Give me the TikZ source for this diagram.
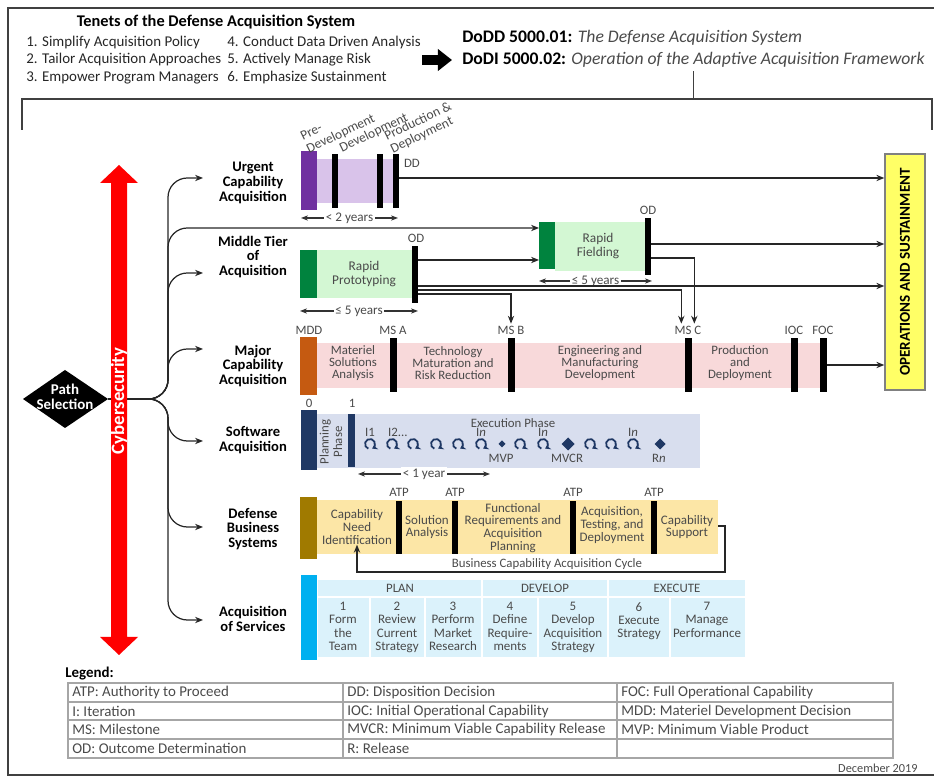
\documentclass[tikz,border=0pt]{standalone}
\usepackage{fontspec}
\setmainfont{Carlito}
\usetikzlibrary{arrows.meta}

\definecolor{ucadark}{HTML}{7030A0}
\definecolor{ucalight}{HTML}{D9C3EA}
\definecolor{mtadark}{HTML}{00833E}
\definecolor{mtalight}{HTML}{D3F7D3}
\definecolor{mcadark}{HTML}{C55A11}
\definecolor{mcalight}{HTML}{F8D9DA}
\definecolor{swdark}{HTML}{1F3864}
\definecolor{swlight}{HTML}{D8DEEE}
\definecolor{dbsdark}{HTML}{A07A00}
\definecolor{dbslight}{HTML}{FCE6A6}
\definecolor{aosdark}{HTML}{00B0F0}
\definecolor{aoslight}{HTML}{DBF2FB}
\definecolor{osfill}{HTML}{FFFF66}
\definecolor{txtgray}{HTML}{4A4A4A}

\begin{document}
\begin{tikzpicture}[x=0.02cm,y=-0.02cm,
  conn/.style={draw=black!85,line width=0.7pt,-{Stealth[length=4.5pt,width=3.6pt]}},
  wire/.style={draw=black!75,line width=0.7pt},
  dur/.style={draw=black!80,line width=0.6pt,{Stealth[length=4pt,width=3pt]}-{Stealth[length=4pt,width=3pt]}},
  durlbl/.style={fill=white,inner sep=1pt,text=txtgray,font=\fontsize{7.5}{8}\selectfont},
  pathlbl/.style={font=\bfseries\fontsize{8.3}{8.4}\selectfont,align=center},
  phase/.style={font=\fontsize{7.3}{6.8}\selectfont,text=txtgray,align=center,inner sep=0pt},
  gate/.style={font=\fontsize{7.3}{8}\selectfont,text=txtgray,inner sep=1pt},
  stage/.style={font=\fontsize{7.7}{8}\selectfont,text=txtgray,inner sep=0pt,rotate=26,anchor=south west,align=left},
  legtxt/.style={font=\fontsize{8.5}{9}\selectfont,text=txtgray,anchor=west,inner sep=0pt}]
\useasboundingbox (0,0) rectangle (934,776);
% frames
\draw[black!75,line width=0.9pt] (934,8) -- (8,8) -- (8,775) -- (934,775);
\draw[wire] (22,130) -- (22,99) -- (932,99) -- (932,130);
\coordinate (brk) at (0,99);

% tenets and policy
\node[font=\bfseries\fontsize{9.3}{10}\selectfont] (tenets) at (216,22) {Tenets of the Defense Acquisition System};
\foreach \t [count=\i] in {Simplify Acquisition Policy,Tailor Acquisition Approaches,Empower Program Managers}
  \node[anchor=west,inner sep=0pt,text=black!85,font=\fontsize{8.5}{9}\selectfont] (ten\i) at (26,25+17.5*\i) {\i. \t};
\foreach \t [count=\i from 4] in {Conduct Data Driven Analysis,Actively Manage Risk,Emphasize Sustainment}
  \node[anchor=west,inner sep=0pt,text=black!85,font=\fontsize{8.5}{9}\selectfont] (ten\i) at (227,25+17.5*\i-52.5) {\i. \t};
\coordinate (arrA) at (422,60);
\coordinate (arrB) at (452,60);
\draw[line width=5.5pt,-{Triangle[length=8pt,width=12pt]}] (arrA) -- (arrB);
\node[anchor=west,inner sep=0pt,font=\fontsize{10.05}{11}\selectfont] (dodd) at (462,38) {\textbf{DoDD 5000.01:} \textcolor{txtgray}{\itshape The Defense Acquisition System}};
\node[anchor=west,inner sep=0pt,font=\fontsize{10.05}{11}\selectfont] (dodi) at (462,60) {\textbf{DoDI 5000.02:} \textcolor{txtgray}{\itshape Operation of the Adaptive Acquisition Framework}};
\draw[wire] ([yshift=-2pt]dodi.south) -- (dodi.south |- brk);

% path selection
\fill (23,399) -- (65,370) -- (108,399) -- (65,428) -- cycle;
\coordinate (selR) at (108,399);
\node[font=\bfseries\fontsize{8.5}{8.8}\selectfont,text=white,align=center] (sel) at (65,397) {Path\\Selection};
\node[pathlbl] (uca) at (253,183) {Urgent\\Capability\\Acquisition};
\node[pathlbl] (mta) at (253,257) {Middle Tier\\of\\Acquisition};
\node[pathlbl] (mca) at (253,366) {Major\\Capability\\Acquisition};
\node[pathlbl] (swa) at (253,440) {Software\\Acquisition};
\node[pathlbl] (dbs) at (253,529) {Defense\\Business\\Systems};
\node[pathlbl] (aos) at (253,619) {Acquisition\\of Services};
\foreach \n/\y in {uca/178,mta/273,mca/349,swa/441,dbs/527,aos/620}
  \draw[conn,rounded corners=11pt] (selR) -- (168,399) -- (168,\y) -- (203,\y) coordinate (\n-in);
\coordinate (rfIn) at (539,228);
\draw[conn,rounded corners=11pt] (selR) -- (168,399) -- (168,228) -- (rfIn);

% cybersecurity
\fill[red] (119,165) -- (138,183) -- (127,183) -- (127,637) -- (138,637) -- (119,655) -- (100,637) -- (111,637) -- (111,183) -- (100,183) -- cycle;
\node[rotate=90,text=white,font=\bfseries\fontsize{10.7}{12}\selectfont] (cyber) at (119,401) {Cybersecurity};

% operations and sustainment
\node[draw=black!50,line width=0.8pt,fill=osfill,minimum width=0.8cm,minimum height=4.72cm,inner sep=0pt] (os) at (905,272) {\rotatebox{90}{\bfseries\fontsize{8.6}{9}\selectfont OPERATIONS AND SUSTAINMENT}};

% urgent capability
\fill[ucalight] (317,159) rectangle (396,203);
\fill[ucadark] (301,151) rectangle (317,210);
\foreach \x in {332,377,393} \fill (\x,154) rectangle ++(6,54);
\node[gate,anchor=west] (dd) at (402,163) {DD};
\node[stage] (pre) at (310,156) {Pre-\\Development};
\node[stage] (dev) at (343,155) {Development};
\node[stage] (prod) at (394,156) {Production \&\\Deployment};
\coordinate (ddOut) at (399,178);
\draw[conn] (ddOut) -- (os.west |- ddOut);
\draw[dur] (301,218) -- (398,218) node[durlbl,midway] (ucaDur) {< 2 years};

% middle tier
\fill[mtalight] (317,250) rectangle (413,298);
\fill[mtadark] (300,250) rectangle (317,298);
\fill (412,246) rectangle (418,303);
\node[gate] (rpOD) at (416,238) {OD};
\node[phase,font=\fontsize{7.6}{8.2}\selectfont] (rp) at (364,274) {Rapid\\Prototyping};
\draw[dur] (300,311) -- (418,311) node[durlbl,midway] (rpDur) {≤ 5 years};
\fill[mtalight] (555,222) rectangle (646,271);
\fill[mtadark] (539,222) rectangle (555,269);
\fill (645,218) rectangle (651,275);
\node[gate] (rfOD) at (648,210) {OD};
\node[phase,font=\fontsize{7.6}{8.2}\selectfont] (rf) at (598,246) {Rapid\\Fielding};
\draw[dur] (539,281) -- (652,281) node[durlbl,midway] (rfDur) {≤ 5 years};
\coordinate (rpA) at (418,260);
\coordinate (rpB) at (418,286);
\coordinate (rpC) at (418,290);
\coordinate (rpD) at (418,294);
\coordinate (rfA) at (651,244);
\coordinate (rfB) at (651,258);

% major capability
\fill[mcalight] (317,343) rectangle (827,388);
\fill[mcadark] (300,337) rectangle (317,395);
\foreach \x in {390,508,685,791,820} \fill (\x,338) rectangle ++(6.5,54);
\foreach \x/\t/\n in {309/MDD/mdd,393/MS A/msa,511/MS B/msb,688/MS C/msc,794/IOC/ioc,823/FOC/foc}
  \node[gate] (\n) at (\x,330) {\t};
\node[phase] (msaph) at (353,363) {Materiel\\Solutions\\Analysis};
\node[phase] (tmrr) at (453,363) {Technology\\Maturation and\\Risk Reduction};
\node[phase] (emd) at (600,363) {Engineering and\\Manufacturing\\Development};
\node[phase] (pd) at (740,363) {Production\\and\\Deployment};
\coordinate (focOut) at (827,365);
\draw[conn] (focOut) -- (os.west |- focOut);
\draw[conn] (rpA) -- (rpA -| rfIn);
\draw[conn] (rfA) -- (os.west |- rfA);
\draw[conn] (rpB) -- (os.west |- rpB);
\draw[conn] (rfB) -| ([xshift=3.6pt]msc.north);
\draw[conn] (rpC) -| ([xshift=-3.8pt]msc.north);
\draw[conn] (rpD) -| (msb.north);

% software
\fill[swlight] (317,414) rectangle (700,468);
\fill[swdark] (301,410) rectangle (317,470);
\fill[swdark] (348,414) rectangle (355,467);
\node[gate] (sw0) at (309,403) {0};
\node[gate] (sw1) at (352,403) {1};
\node[phase,rotate=90,font=\fontsize{7.3}{7.6}\selectfont] (swplan) at (331,442) {Planning\\Phase};
\node[gate] (exec) at (513,423) {Execution Phase};
\foreach \x in {370,392,413,436,458,481,520,543,590,611,633}
  \draw[draw=swdark,line width=1pt,-{Stealth[length=3pt,width=3.8pt]}] (\x,444) ++(250:0.1cm) arc[start angle=250,end angle=-65,radius=0.1cm];
\node[gate] (i1) at (370,432) {I1};
\node[gate,anchor=west] (i2) at (386,432) {I2...};
\foreach \x/\n in {481/ia,543/ib,633/ic}
  \node[gate] (\n) at (\x,432) {I\textit{n}};
\foreach \x/\s/\n/\t in {502/3.5/mvp/MVP,568/6.5/mvcr/MVCR,660/5.5/rn/R\textit{n}}
{
  \fill[swdark] (\x,444) +(-\s,0) -- +(0,-\s) -- +(\s,0) -- +(0,\s) -- cycle;
  \node[gate] (\n) at (\x-1,458) {\t};
}
\draw[dur] (358,474) -- (490,474) node[durlbl,midway] (swDur) {< 1 year};

% defense business systems
\fill[dbslight] (317,500) rectangle (718,554);
\fill[dbsdark] (300,497) rectangle (317,559);
\foreach \x/\n in {396/atp1,452/atp2,570/atp3,651/atp4}
{
  \fill (\x,501) rectangle ++(6,53);
  \node[gate] (\n) at (\x+3,492) {ATP};
}
\node[phase,font=\fontsize{7.4}{7.3}\selectfont] (cni) at (357,527) {Capability\\Need\\Identification};
\node[phase,font=\fontsize{7.4}{7.3}\selectfont] (sa) at (427,527) {Solution\\Analysis};
\node[phase,font=\fontsize{7.4}{7.3}\selectfont] (fra) at (513,528) {Functional\\Requirements and\\Acquisition\\Planning};
\node[phase,font=\fontsize{7.4}{7.3}\selectfont] (atd) at (612,525) {Acquisition,\\Testing, and\\Deployment};
\node[phase,font=\fontsize{7.4}{7.3}\selectfont] (cs) at (687,527) {Capability\\Support};
\coordinate (cycOut) at (718,526);
\draw[conn] (cycOut) -- (725,526) -- (725,572) -| (cni.south);
\node[gate] (bcac) at (547,564) {Business Capability Acquisition Cycle};

% acquisition of services
\fill[aosdark] (301,575) rectangle (317,660);
\fill[aoslight] (318,580) rectangle (745,657);
\draw[white,line width=1.5pt] (318,597) -- (745,597);
\foreach \x in {482,608} \draw[white,line width=1.5pt] (\x,580) -- (\x,657);
\foreach \x in {370,425,538,670} \draw[white,line width=1.5pt] (\x,597) -- (\x,657);
\node[gate] (hplan) at (400,588) {PLAN};
\node[gate] (hdev) at (545,588) {DEVELOP};
\node[gate] (hexe) at (677,588) {EXECUTE};
\foreach \x/\t [count=\i] in {343/{Form\\the\\Team},397/{Review\\Current\\Strategy},453/{Perform\\Market\\Research},510/{Define\\Require-\\ments},573/{Develop\\Acquisition\\Strategy},639/{Execute\\Strategy},707/{Manage\\Performance}}
  \node[phase,anchor=north,font=\fontsize{7.4}{7.5}\selectfont] (step\i) at (\x,602) {\i\\\t};

% legend
\node[anchor=west,inner sep=0pt,font=\bfseries\fontsize{8.5}{9}\selectfont] (leg) at (65,674) {Legend:};
\draw[black!35,line width=0.6pt] (68,683) rectangle (893,758);
\foreach \y in {702,720,739} \draw[black!35,line width=0.6pt] (68,\y) -- (893,\y);
\foreach \x in {343,617} \draw[black!35,line width=0.6pt] (\x,683) -- (\x,758);
\foreach \a/\b/\c [count=\i from 0] in {ATP: Authority to Proceed/DD: Disposition Decision/FOC: Full Operational Capability,I: Iteration/IOC: Initial Operational Capability/MDD: Materiel Development Decision,MS: Milestone/MVCR: Minimum Viable Capability Release/MVP: Minimum Viable Product,OD: Outcome Determination/R: Release/{}}
{
  \node[legtxt] (la\i) at (72,692.5+18.6*\i) {\a};
  \node[legtxt] (lb\i) at (347,692.5+18.6*\i) {\b};
  \node[legtxt] (lc\i) at (621,692.5+18.6*\i) {\c};
}
\node[anchor=east,inner sep=0pt,text=txtgray,font=\fontsize{7}{8}\selectfont] (date) at (918,768) {December 2019};
\end{tikzpicture}
\end{document}
